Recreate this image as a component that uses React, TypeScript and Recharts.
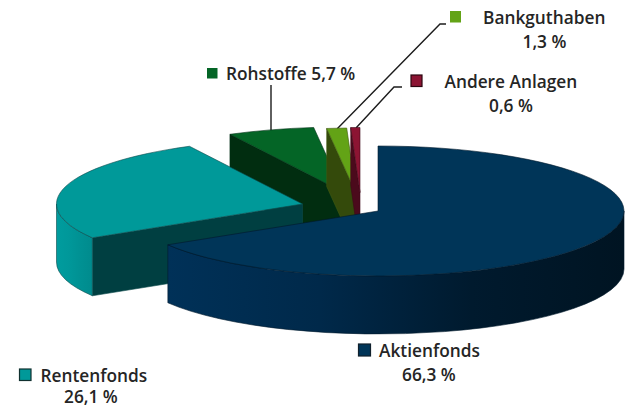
import React from "react";
import { PieChart, Pie } from "recharts";

const categories = ["Aktienfonds", "Rentenfonds", "Rohstoffe", "Bankguthaben", "Andere Anlagen"];
const shares = [66.3, 26.1, 5.7, 1.3, 0.6];
const shareLabels = ["66,3 %", "26,1 %", "5,7 %", "1,3 %", "0,6 %"];
const rows = categories.map((name, i) => ({ name, value: shares[i], label: shareLabels[i] }));

// back-to-front painting order
const paintOrder = ["Rohstoffe", "Bankguthaben", "Andere Anlagen", "Rentenfonds", "Aktienfonds"];

const TILT = 65 / 246;
const DEPTH = 58;
const FONT = "'Open Sans', 'Noto Sans', sans-serif";
const INK = "#252525";

type Look = {
  explode: [number, number];
  top: string;
  cut: string;
  edge: string;
  wall: string[];
  swatch: [number, number, number, number];
  swatchStroke: string;
  leader?: string;
  lines: { text: string; x: number; y: number }[];
};

const looks: Record<string, Look> = {
  Aktienfonds: {
    explode: [0, 0],
    top: "#003558",
    cut: "#002238",
    edge: "#001a2c",
    wall: ["#003158", "#00294a", "#001a2e", "#001422"],
    swatch: [358.5, 344, 12, 12],
    swatchStroke: "#10202c",
    lines: [
      { text: "Aktienfonds", x: 379, y: 357 },
      { text: "66,3 %", x: 402, y: 381 },
    ],
  },
  Rentenfonds: {
    explode: [-75.5, -7],
    top: "#009999",
    cut: "#003f41",
    edge: "#0b4a4c",
    wall: ["#009c9e", "#00989a", "#009193", "#008b8d"],
    swatch: [19.5, 369, 11.5, 11.5],
    swatchStroke: "#10302f",
    lines: [
      { text: "Rentenfonds", x: 40.5, y: 381.5 },
      { text: "26,1 %", x: 64, y: 403 },
    ],
  },
  Rohstoffe: {
    explode: [-35, -19],
    top: "#046526",
    cut: "#012d10",
    edge: "#023015",
    wall: ["#046526", "#046526", "#046526", "#046526"],
    swatch: [207, 68, 10.5, 10.5],
    swatchStroke: "none",
    leader: "M271 85 L271 132.5",
    lines: [{ text: "Rohstoffe 5,7 %", x: 226, y: 80 }],
  },
  Bankguthaben: {
    explode: [-22, -18],
    top: "#63a316",
    cut: "#344a0b",
    edge: "#3f5a10",
    wall: ["#63a316", "#63a316", "#63a316", "#63a316"],
    swatch: [450, 11, 11, 11.5],
    swatchStroke: "none",
    leader: "M446 24 L440 24 L337 129",
    lines: [
      { text: "Bankguthaben", x: 483, y: 24 },
      { text: "1,3 %", x: 522.5, y: 48 },
    ],
  },
  "Andere Anlagen": {
    explode: [-18, -18.5],
    top: "#8c1433",
    cut: "#4b0a1c",
    edge: "#3d0817",
    wall: ["#8c1433", "#8c1433", "#8c1433", "#8c1433"],
    swatch: [411, 75, 11, 11.5],
    swatchStroke: "#2c0610",
    leader: "M402 87 L394 87 L356 128",
    lines: [
      { text: "Andere Anlagen", x: 444.5, y: 88 },
      { text: "0,6 %", x: 489, y: 112 },
    ],
  },
};

function Slice({ props, look, id }: { props: any; look: Look; id: string }) {
  const { cx, cy, outerRadius: R } = props;
  const ax = cx + look.explode[0];
  const ay = cy + look.explode[1];
  const ry = R * TILT;
  // clockwise degrees from twelve o'clock
  const t0 = 90 - props.startAngle;
  const t1 = 90 - props.endAngle;
  const pt = (t: number, d = 0) => {
    const r = (t * Math.PI) / 180;
    return `${ax + R * Math.sin(r)} ${ay - ry * Math.cos(r) + d}`;
  };
  const arc = (b: number, a: number, sweep: number, d = 0) =>
    `A${R} ${ry} 0 ${Math.abs(b - a) > 180 ? 1 : 0} ${sweep} ${pt(b, d)}`;

  const wallFrom = Math.max(t0, 90);
  const wallTo = Math.min(t1, 270);
  const hasWall = wallTo > wallFrom;
  const hasCut = t0 > 180 && t0 < 360;

  return (
    <g>
      <defs>
        <linearGradient id={id} x1="0" x2="1" y1="0" y2="0">
          {look.wall.map((c, i) => (
            <stop key={i} offset={i / (look.wall.length - 1)} stopColor={c} />
          ))}
        </linearGradient>
      </defs>
      {look.leader && <path d={look.leader} fill="none" stroke="#1c1c1c" strokeWidth={1.4} />}
      {hasCut && (
        <path
          d={`M${ax} ${ay} L${pt(t0)} L${pt(t0, DEPTH)} L${ax} ${ay + DEPTH} Z`}
          fill={look.cut}
          stroke={look.edge}
          strokeWidth={0.6}
        />
      )}
      {hasWall && (
        <path
          d={`M${pt(wallFrom)} ${arc(wallTo, wallFrom, 1)} L${pt(wallTo, DEPTH)} ${arc(wallFrom, wallTo, 0, DEPTH)} Z`}
          fill={`url(#${id})`}
          stroke={look.edge}
          strokeWidth={0.6}
        />
      )}
      <path
        d={`M${ax} ${ay} L${pt(t0)} ${arc(t1, t0, 1)} Z`}
        fill={look.top}
        stroke={look.edge}
        strokeWidth={0.6}
      />
      <rect
        x={look.swatch[0]}
        y={look.swatch[1]}
        width={look.swatch[2]}
        height={look.swatch[3]}
        fill={look.top}
        stroke={look.swatchStroke}
        strokeWidth={1.2}
      />
      {look.lines.map((l) => (
        <text key={l.text} x={l.x} y={l.y} fontFamily={FONT} fontSize={17.3} fontWeight={600} fill={INK}>
          {l.text}
        </text>
      ))}
    </g>
  );
}

export default function App() {
  return (
    <div style={{ position: "absolute", left: 0, top: 0, width: 633, height: 408, background: "#fff" }}>
      <PieChart width={633} height={408} margin={{ top: 0, right: 0, bottom: 0, left: 0 }}>
        {paintOrder.map((name, layer) => (
          <Pie
            key={name}
            data={rows}
            dataKey="value"
            nameKey="name"
            cx={378}
            cy={211}
            innerRadius={0}
            outerRadius={246}
            startAngle={90}
            endAngle={-270}
            stroke="none"
            label={false}
            labelLine={false}
            isAnimationActive={false}
            shape={(p: any) =>
              (p.name ?? p.payload?.name) === name ? (
                <Slice props={p} look={looks[name]} id={`wall-${layer}`} />
              ) : (
                <g />
              )
            }
          />
        ))}
      </PieChart>
    </div>
  );
}
